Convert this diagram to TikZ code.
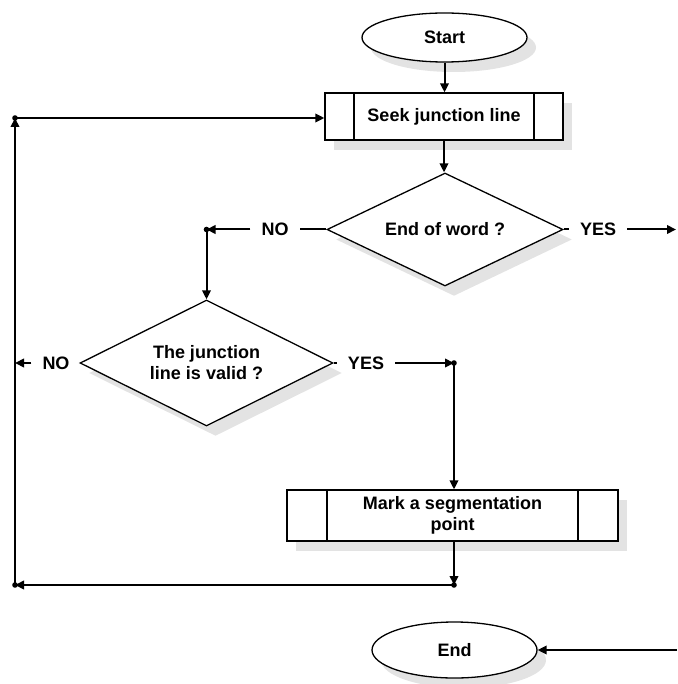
\documentclass[tikz,border=0pt]{standalone}
\usepackage{fontspec}
\setmainfont{Liberation Sans}
\usetikzlibrary{shapes.geometric,arrows.meta,shadows}
\tikzset{
  txt/.style={font=\fontsize{18}{21}\selectfont\bfseries},
  base/.style={txt, draw, line width=1.3pt, fill=white, align=center,
    drop shadow={shadow xshift=9pt, shadow yshift=-10pt, opacity=1, fill=gray!22}},
  terminal/.style={base, ellipse, inner sep=0pt, minimum width=165pt},
  process/.style={base, rectangle, inner sep=0pt,
    path picture={
      \draw[line width=1.3pt] ([xshift=#1]path picture bounding box.north west) -- ([xshift=#1]path picture bounding box.south west);
      \draw[line width=1.3pt] ([xshift=-#1]path picture bounding box.north east) -- ([xshift=-#1]path picture bounding box.south east);
    }},
  decision/.style={base, diamond, aspect=2, inner sep=0pt},
  lbl/.style={txt, inner xsep=11pt, inner ysep=2pt},
  conn/.style={line width=2pt},
  arr/.style={conn, -{Triangle[length=9pt,width=8.5pt]}},
  dot/.style={fill=black}
}
\begin{document}
\begin{tikzpicture}[x=1pt,y=-1pt]
\useasboundingbox (0,0) rectangle (677,684);

\node[terminal, minimum height=49pt] (start) at (444.5,37.5) {Start};
\node[process=29pt, minimum width=238pt, minimum height=47pt] (seek) at (444,116.5) {Seek junction line};
\node[decision, minimum width=236pt, minimum height=113pt] (d1) at (445,229.5) {End of word ?};
\node[decision, minimum width=253pt, minimum height=126pt] (d2) at (206.5,363) {The junction\\line is valid ?};
\node[process=40pt, minimum width=331pt, minimum height=51pt] (mark) at (452.5,515.5) {Mark a segmentation\\point};
\node[terminal, minimum height=56pt] (end) at (454.5,650) {End};

\node[lbl] (no1) at (275,229.5) {NO};
\node[lbl] (yes1) at (598,229.5) {YES};
\node[lbl] (no2) at (56,363) {NO};
\node[lbl] (yes2) at (366,363) {YES};

\coordinate (j1) at (206.5,229.5);
\coordinate (exit1) at (676,229.5);
\coordinate (j2) at (454,363);
\coordinate (j3) at (454,585);
\coordinate (j4) at (15,585);
\coordinate (j5) at (15,118);
\coordinate (j6) at (15,363);
\coordinate (entry) at (677,650);

\draw[arr] (start.south) -- (start.south |- seek.north);
\draw[arr] (seek.south) -- (seek.south |- d1.north);
\draw[conn] (d1.west) -- (no1.east);
\draw[arr] (no1.west) -- (j1);
\draw[arr] (j1) -- (d2.north);
\draw[conn] (d1.east) -- (yes1.west);
\draw[arr] (yes1.east) -- (exit1);
\draw[arr] (no2.west) -- (j6);
\draw[conn] (d2.east) -- (yes2.west);
\draw[arr] (yes2.east) -- (j2);
\draw[arr] (j2) -- (j2 |- mark.north);
\draw[arr] (j3 |- mark.south) -- (j3);
\draw[arr] (j3) -- (j4);
\draw[arr] (j4) -- (j5);
\draw[arr] (j5) -- (j5 -| seek.west);
\draw[arr] (entry) -- (end.east);

\foreach \p in {j1,j2,j3,j4,j5} \fill[dot] (\p) circle (2.8pt);
\end{tikzpicture}
\end{document}
